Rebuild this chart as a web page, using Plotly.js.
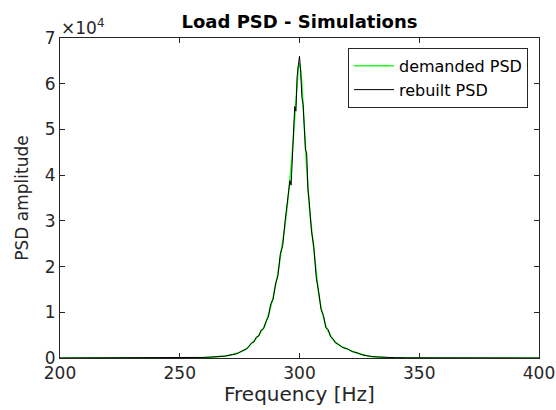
<!DOCTYPE html>
<html>
<head>
<meta charset="utf-8">
<script src="https://cdn.plot.ly/plotly-3.0.1.min.js"></script>
<style>html,body{margin:0;padding:0;background:#fff;}#chart{width:556px;height:410px;}</style>
</head>
<body>
<div id="chart"></div>
<script>
var freq = [200,210,220,230,240,250,255,260,263,266,269,272,274,276,278,280,281,282,283,284,285,286,287,288,289,290,291,292,293,294,295,295.5,296,296.5,297,297.5,298,298.5,299,299.5,300,300.5,301,301.5,302,302.5,303,303.5,304,305,306,307,308,309,310,311,312,313,314,315,316,318,320,322,324,326,328,330,333,336,340,345,350,360,370,380,390,400];
var demanded = [1,2,3,5,10,30,60,120,180,280,450,700,1000,1450,2100,3100,3700,4300,5000,5700,6600,7700,9300,11200,13300,15700,18600,22000,25300,29200,33800,36200,39000,42000,45000,48500,53000,57500,61000,63500,64500,63000,60000,55000,49000,45000,41500,38000,33500,28500,23500,18000,14000,11000,8800,7000,5800,4800,4000,3500,3000,2400,1900,1500,1100,750,500,330,200,120,70,40,20,8,3,2,1,1];
var rebuilt = [2,3,4,6,12,35,70,130,200,320,420,760,950,1550,2000,3300,3500,4600,4800,6100,6400,8000,9000,11800,12900,16200,18000,22800,24600,30000,34500,35800,38800,37800,44000,47500,55000,54000,61500,64000,66000,62500,57000,55500,50500,45500,44800,37000,34500,27800,24200,17500,14500,10600,9300,6600,6200,4600,4200,3300,3100,2300,2000,1400,1150,720,520,320,210,115,72,38,22,9,3,2,1,1];
var yTickVals = [0,10000,20000,30000,40000,50000,60000,70000];
var yTickText = ['0','1','2','3','4','5','6','7'];
var xTickVals = [200,250,300,350,400];

var font = 'DejaVu Sans, Verdana, sans-serif';
var axisColor = '#262626';

var traces = [
  {x: freq, y: demanded, type: 'scatter', mode: 'lines', name: 'demanded PSD',
   line: {color: '#22ff22', width: 1.5}},
  {x: freq, y: rebuilt, type: 'scatter', mode: 'lines', name: 'rebuilt PSD',
   line: {color: '#000000', width: 1}}
];

var layout = {
  width: 556, height: 410,
  margin: {l: 60, r: 17, t: 38, b: 52},
  paper_bgcolor: '#ffffff', plot_bgcolor: '#ffffff',
  font: {family: font, size: 16, color: axisColor},
  title: {text: '<b>Load PSD - Simulations</b>', font: {family: font, size: 18, color: '#000'},
          xref: 'paper', x: 0.5, xanchor: 'center', yref: 'container', y: 0.946, yanchor: 'middle'},
  showlegend: true,
  legend: {x: 0.977, xanchor: 'right', y: 0.969, yanchor: 'top',
           bordercolor: axisColor, borderwidth: 1, bgcolor: '#ffffff',
           font: {family: font, size: 16, color: '#000'}, tracegroupgap: 0, itemwidth: 40},
  xaxis: {range: [200, 400], tickvals: xTickVals, ticks: 'inside', ticklen: 5, tickcolor: axisColor,
          showline: true, linecolor: axisColor, linewidth: 1, mirror: 'ticks', showgrid: false, zeroline: false,
          tickfont: {family: font, size: 17, color: axisColor}},
  yaxis: {range: [0, 70000], tickvals: yTickVals, ticktext: yTickText, ticks: 'inside', ticklen: 5, tickcolor: axisColor,
          showline: true, linecolor: axisColor, linewidth: 1, mirror: 'ticks', showgrid: false, zeroline: false,
          tickfont: {family: font, size: 17, color: axisColor},
          title: {text: 'PSD amplitude', font: {family: font, size: 17, color: axisColor}, standoff: 11}},
  annotations: [
    {text: '\u00d710<sup>4</sup>', xref: 'paper', yref: 'paper', x: 0.0, y: 1.0, xanchor: 'left', yanchor: 'bottom',
     showarrow: false, font: {family: font, size: 17, color: axisColor}, xshift: -1, yshift: -2},
    {text: 'Frequency [Hz]', xref: 'paper', yref: 'paper', x: 0.5, y: -0.114, xanchor: 'center', yanchor: 'middle',
     showarrow: false, font: {family: font, size: 20, color: axisColor}}
  ]
};

Plotly.newPlot('chart', traces, layout, {displayModeBar: false, staticPlot: true});
</script>
</body>
</html>
